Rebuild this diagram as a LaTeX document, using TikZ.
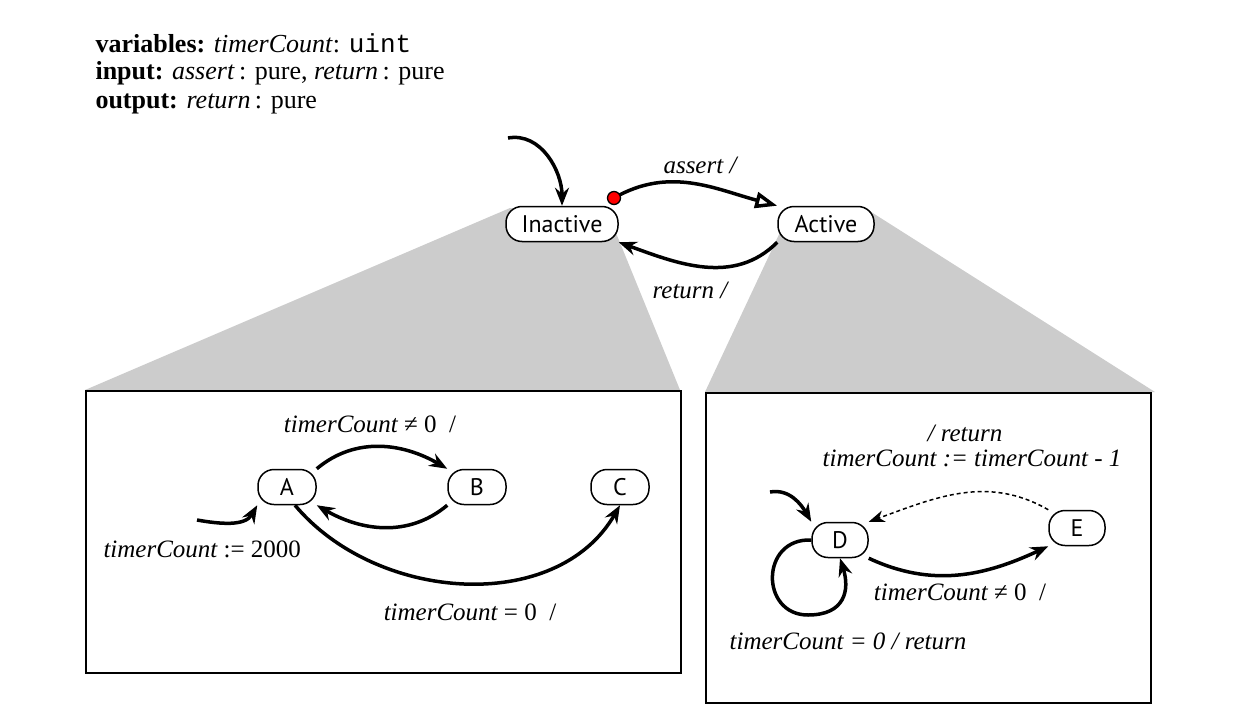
\documentclass[tikz,border=0pt]{standalone}
\usepackage{fontspec}
\setmainfont{Liberation Serif}
\newfontfamily\nodefont{PT Sans}
\setmonofont{Liberation Mono}
\usetikzlibrary{arrows.meta}
\begin{document}
\begin{tikzpicture}[x=1pt,y=-1pt,
  st/.style={draw,line width=1.5pt,rounded corners=16pt,fill=white,minimum height=35pt,inner sep=0pt,font=\nodefont\fontsize{24}{28}\selectfont},
  tr/.style={line width=3.5pt,-{Stealth[length=18pt,width=14pt,inset=6pt]}},
  lab/.style={font=\fontsize{25}{30}\selectfont\itshape},
  box/.style={draw,line width=1.5pt,fill=white}]
\useasboundingbox (0,0) rectangle (1238,722);
\fill[gray!40] (510,208) -- (85,390) -- (680,390) -- (614,228) -- cycle;
\fill[gray!40] (782,228) -- (705,392) -- (1155,392) -- (868,210) -- cycle;
\node[box,minimum width=595pt,minimum height=282pt,anchor=north west] (L) at (85,390) {};
\node[box,minimum width=445pt,minimum height=310pt,anchor=north west] (R) at (705,392) {};
\node[anchor=west,font=\fontsize{26}{30}\selectfont] (h1) at (92,43) {\textbf{variables:} \textit{timerCount}: \texttt{uint}};
\node[anchor=west,font=\fontsize{26}{30}\selectfont] (h2) at (92,73) {\textbf{input:} \textit{assert}\,: pure, \textit{return}\,: pure};
\node[anchor=west,font=\fontsize{26}{30}\selectfont] (h3) at (92,104) {\textbf{output:} \textit{return}\,: pure};
\node[st,minimum width=112pt] (I) at (562,224) {Inactive};
\node[st,minimum width=96pt] (Ac) at (826,224) {Active};
\coordinate (i0) at (508,138);
\draw[tr] (i0) to[out=10,in=90] (I.north);
\draw[line width=3.5pt,-{Triangle[open,length=22pt,width=16pt]}] (614,198) to[out=30,in=165] (Ac.north west);
\filldraw[fill=red,line width=1.3pt] (614,198) circle (6.5pt);
\node[lab] (la) at (700,165) {assert /};
\draw[tr] (Ac.south west) to[out=-135,in=-20] (I.south east);
\node[lab] (lr) at (690,290) {return /};
% left
\node[st,minimum width=58pt] (A) at (287,487) {A};
\node[st,minimum width=58pt] (B) at (477,487) {B};
\node[st,minimum width=58pt] (C) at (620,487) {C};
\draw[tr] (A.north east) to[out=40,in=150] (B.north west);
\draw[tr] (B.south west) to[out=-140,in=-30] (A.south east);
\coordinate (a0) at (197,520);
\draw[tr] (a0) to[out=-10,in=-120] (A.south west);
\draw[tr] (A.south) ++(8,0) to[out=-50,in=-120] (C.south);
\node[lab] (l1) at (370,424) {timerCount \upshape≠ 0\ \ /};
\node[lab,anchor=west] (l2) at (100,549) {timerCount \upshape := 2000};
\node[lab] (l3) at (470,612) {timerCount \upshape = 0\ \ /};
% right
\node[st,minimum width=56pt] (D) at (840,540) {D};
\node[st,minimum width=56pt] (E) at (1077,528) {E};
\coordinate (d0) at (770,492);
\draw[tr] (d0) to[out=10,in=120] (D.north west);
\draw[line width=1.5pt,dash pattern=on 4pt off 3pt,-{Stealth[length=16pt,width=12pt,inset=5pt]}] (E.north west) to[out=150,in=20] (D.north east);
\draw[tr] (D.south east) to[out=-25,in=-155] (E.south west);
\draw[tr] (D.west) .. controls (760,538) and (760,615) .. (808,615) .. controls (845,615) and (850,590) .. (D.south);
\node[lab] (l4) at (965,433) {/ return};
\node[lab] (l5) at (972,458) {timerCount := timerCount - 1};
\node[lab] (l6) at (960,592) {timerCount \upshape≠ 0\ \ /};
\node[lab] (l7) at (848,641) {timerCount = 0 / return};
\end{tikzpicture}
\end{document}
